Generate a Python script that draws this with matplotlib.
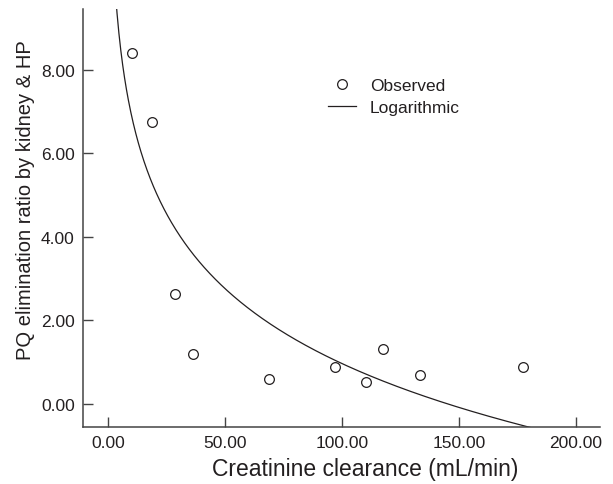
import numpy as np
import matplotlib
matplotlib.use("Agg")
import matplotlib.pyplot as plt

# observed points
clearance = [10.3, 18.9, 28.8, 36.2, 68.9, 97.1, 110.5, 117.6, 133.5, 177.4]
ratio = [8.40, 6.75, 2.64, 1.19, 0.59, 0.89, 0.53, 1.31, 0.70, 0.89]

x_ticks = [0, 50, 100, 150, 200]
y_ticks = [0, 2, 4, 6, 8]

plt.rcParams['font.family'] = ['Liberation Sans', 'DejaVu Sans']
ink = '#231f20'

fig = plt.figure(figsize=(6.13, 4.85), dpi=100)
ax = fig.add_axes([0.1354, 0.1175, 0.8436, 0.8629])

# logarithmic fit  y = a + b*ln(x)
b, a = np.polyfit(np.log(clearance), ratio, 1)
xs = np.linspace(1, 215, 800)
ax.plot(xs, a + b * np.log(xs), color=ink, lw=0.9, label='Logarithmic')
ax.plot(clearance, ratio, 'o', ms=7, mfc='white', mec=ink, mew=0.9,
        label='Observed', zorder=3)

ax.set_xlim(-10.6, 210.4)
ax.set_ylim(-0.55, 9.46)
ax.set_xticks(x_ticks)
ax.set_yticks(y_ticks)
ax.set_xticklabels([f"{v:.2f}" for v in x_ticks])
ax.set_yticklabels([f"{v:.2f}" for v in y_ticks])
ax.tick_params(direction='in', length=7.5, width=1, color='#444444',
               labelsize=12.5, labelcolor=ink, pad=6)

for s in ['top', 'right']:
    ax.spines[s].set_visible(False)
for s in ['left', 'bottom']:
    ax.spines[s].set_color('#444444')
    ax.spines[s].set_linewidth(1.1)

ax.set_xlabel('Creatinine clearance (mL/min)', fontsize=16.5, color=ink)
ax.set_ylabel('PQ elimination ratio by kidney & HP', fontsize=14.5, color=ink)
ax.xaxis.set_label_coords(0.545, -0.072)
ax.yaxis.set_label_coords(-0.093, 0.545)

h, l = ax.get_legend_handles_labels()
ax.legend(h[::-1], l[::-1], loc='upper left', bbox_to_anchor=(0.474, 0.835),
          frameon=False, fontsize=12.5, borderpad=0, borderaxespad=0,
          handlelength=1.6, handletextpad=0.8, labelspacing=0.4,
          labelcolor=ink)

fig.savefig('out.png', dpi=100)
